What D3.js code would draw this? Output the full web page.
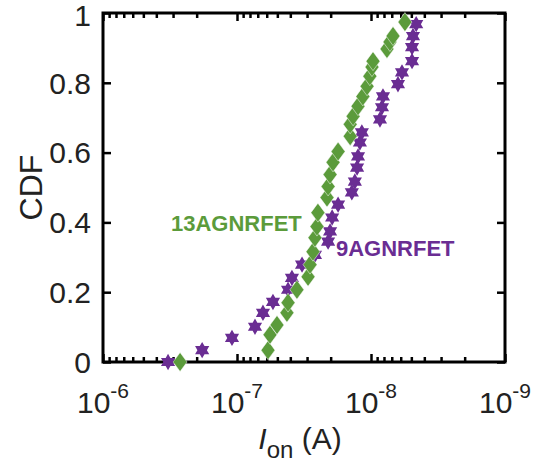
<!DOCTYPE html>
<html>
<head>
<meta charset="utf-8">
<script src="https://cdn.jsdelivr.net/npm/d3@7"></script>
<style>
  html, body { margin: 0; padding: 0; background: #ffffff; }
  svg { display: block; }
  text { font-family: "Liberation Sans", Arial, Helvetica, sans-serif; }
</style>
</head>
<body>
<svg id="chart" width="537" height="465"></svg>
<script>
// ---- data ----
const xTickValues = [1e-6, 1e-7, 1e-8, 1e-9];
const xTickExponents = ["-6", "-7", "-8", "-9"];
const yTickValues = [0, 0.2, 0.4, 0.6, 0.8, 1];
const yTickLabels = ["0", "0.2", "0.4", "0.6", "0.8", "1"];

const seriesNames = ["13AGNRFET", "9AGNRFET"];

// 13AGNRFET (green diamonds): on-current (A) and CDF
const ion13 = [2.66e-7, 5.87e-8, 5.67e-8, 5.03e-8, 4.24e-8, 4.16e-8, 3.57e-8, 2.95e-8, 2.85e-8, 2.71e-8,
               2.62e-8, 2.53e-8, 2.49e-8, 2.13e-8, 2.09e-8, 2.02e-8, 1.92e-8, 1.76e-8, 1.43e-8, 1.43e-8,
               1.36e-8, 1.25e-8, 1.15e-8, 1.07e-8, 1.02e-8, 9.83e-9, 9.66e-9, 7.60e-9, 7.22e-9, 6.85e-9, 5.58e-9];
const cdf13 = [0.00, 0.034, 0.078, 0.106, 0.141, 0.170, 0.207, 0.244, 0.279, 0.316,
               0.356, 0.388, 0.428, 0.471, 0.503, 0.537, 0.572, 0.603, 0.647, 0.681,
               0.704, 0.733, 0.761, 0.790, 0.819, 0.845, 0.862, 0.897, 0.917, 0.934, 0.974];

// 9AGNRFET (purple hexagrams): on-current (A) and CDF
const ion9 = [3.27e-7, 1.82e-7, 1.09e-7, 7.34e-8, 6.40e-8, 5.39e-8, 4.16e-8, 3.89e-8, 3.27e-8, 2.62e-8,
              2.09e-8, 2.02e-8, 1.95e-8, 1.76e-8, 1.39e-8, 1.32e-8, 1.27e-8, 1.25e-8, 1.21e-8, 1.17e-8,
              8.57e-9, 8.28e-9, 8.14e-9, 6.29e-9, 5.87e-9, 4.94e-9, 4.94e-9, 4.86e-9, 4.60e-9];
const cdf9 = [0.00, 0.034, 0.069, 0.101, 0.141, 0.172, 0.207, 0.241, 0.279, 0.307,
              0.345, 0.374, 0.414, 0.451, 0.486, 0.517, 0.557, 0.589, 0.629, 0.658,
              0.695, 0.730, 0.761, 0.796, 0.830, 0.862, 0.902, 0.934, 0.968];

// ---- styling ----
const green = "#5b9b3b";
const purple = "#6a2d93";

const svg = d3.select("#chart");
const margin = { left: 103, right: 32, top: 13, bottom: 103 };
const W = 537, H = 465;

const x = d3.scaleLog().domain([1e-6, 1e-9]).range([margin.left, W - margin.right]);
const y = d3.scaleLinear().domain([0, 1]).range([H - margin.bottom, margin.top]);

const x0 = margin.left, x1 = W - margin.right, y0 = H - margin.bottom, y1 = margin.top;

// minor ticks for log axis
const minorTicks = [];
for (let e = -9; e < -6; e++) {
  for (let m = 2; m <= 9; m++) minorTicks.push(m * Math.pow(10, e));
}

const axisW = 3;

function styleAxis(g) {
  g.select(".domain").remove();
  g.selectAll(".tick line").attr("stroke", "#000").attr("stroke-width", 2.5);
}

// Bottom axis (major, inward ticks)
const gxB = svg.append("g").attr("transform", `translate(0,${y0})`)
  .call(d3.axisBottom(x).tickValues(xTickValues).tickSizeInner(-8).tickSizeOuter(0).tickFormat(""));
styleAxis(gxB);
const gxBm = svg.append("g").attr("transform", `translate(0,${y0})`)
  .call(d3.axisBottom(x).tickValues(minorTicks).tickSizeInner(-5).tickSizeOuter(0).tickFormat(""));
styleAxis(gxBm);
// Top axis
const gxT = svg.append("g").attr("transform", `translate(0,${y1})`)
  .call(d3.axisTop(x).tickValues(xTickValues).tickSizeInner(-8).tickSizeOuter(0).tickFormat(""));
styleAxis(gxT);
const gxTm = svg.append("g").attr("transform", `translate(0,${y1})`)
  .call(d3.axisTop(x).tickValues(minorTicks).tickSizeInner(-5).tickSizeOuter(0).tickFormat(""));
styleAxis(gxTm);
// Left axis
const gyL = svg.append("g").attr("transform", `translate(${x0},0)`)
  .call(d3.axisLeft(y).tickValues(yTickValues).tickSizeInner(-8).tickSizeOuter(0).tickFormat(""));
styleAxis(gyL);
// Right axis
const gyR = svg.append("g").attr("transform", `translate(${x1},0)`)
  .call(d3.axisRight(y).tickValues(yTickValues).tickSizeInner(-8).tickSizeOuter(0).tickFormat(""));
styleAxis(gyR);

// Box
svg.append("rect")
  .attr("x", x0).attr("y", y1).attr("width", x1 - x0).attr("height", y0 - y1)
  .attr("fill", "none").attr("stroke", "#000").attr("stroke-width", axisW);

// Y tick labels
svg.append("g").selectAll("text").data(yTickValues).join("text")
  .attr("x", x0 - 12)
  .attr("y", d => y(d) + (d === 1 ? 2 : 0))
  .attr("dy", "0.36em")
  .attr("text-anchor", "end")
  .attr("font-size", 30)
  .attr("fill", "#222")
  .text((d, i) => yTickLabels[i]);

// X tick labels: 10^exp
const xl = svg.append("g").selectAll("text").data(xTickValues).join("text")
  .attr("x", d => x(d))
  .attr("y", 413)
  .attr("text-anchor", "middle")
  .attr("font-size", 30)
  .attr("fill", "#222");
xl.append("tspan").text("10");
xl.append("tspan").attr("font-size", 21).attr("dy", -15).text((d, i) => xTickExponents[i]);

// Axis titles
svg.append("text")
  .attr("transform", `translate(42,${(y0 + y1) / 2}) rotate(-90)`)
  .attr("text-anchor", "middle")
  .attr("font-size", 32)
  .attr("fill", "#222")
  .text("CDF");

const xt = svg.append("text")
  .attr("x", 300).attr("y", 449)
  .attr("text-anchor", "middle")
  .attr("font-size", 30)
  .attr("fill", "#222");
xt.append("tspan").attr("font-style", "italic").text("I");
xt.append("tspan").attr("font-size", 24).attr("dy", 9).text("on");
xt.append("tspan").attr("dy", -9).text(" (A)");

// Marker shapes
function diamondPath(hw, hh) {
  return `M0,${-hh}L${hw},0L0,${hh}L${-hw},0Z`;
}
function hexagramPath(R) {
  const r = R / Math.sqrt(3);
  const pts = [];
  for (let k = 0; k < 12; k++) {
    const a = -Math.PI / 2 + k * Math.PI / 6;
    const rad = k % 2 === 0 ? R : r;
    pts.push([rad * Math.cos(a), rad * Math.sin(a)]);
  }
  return "M" + pts.map(p => p[0].toFixed(2) + "," + p[1].toFixed(2)).join("L") + "Z";
}

const data9 = ion9.map((v, i) => ({ v, c: cdf9[i] }));
const data13 = ion13.map((v, i) => ({ v, c: cdf13[i] }));

svg.append("g").selectAll("path").data(data9).join("path")
  .attr("d", hexagramPath(8.2))
  .attr("transform", d => `translate(${x(d.v)},${y(d.c)})`)
  .attr("fill", purple);

svg.append("g").selectAll("path").data(data13).join("path")
  .attr("d", diamondPath(7, 9.5))
  .attr("transform", d => `translate(${x(d.v)},${y(d.c)})`)
  .attr("fill", green)
  .attr("stroke", "#fff").attr("stroke-width", 0.5);

// Series labels
svg.append("text")
  .attr("x", 171).attr("y", 231)
  .attr("font-size", 22).attr("font-weight", "bold")
  .attr("fill", green)
  .text(seriesNames[0]);
svg.append("text")
  .attr("x", 336).attr("y", 256)
  .attr("font-size", 22).attr("font-weight", "bold")
  .attr("fill", purple)
  .text(seriesNames[1]);
</script>
</body>
</html>
